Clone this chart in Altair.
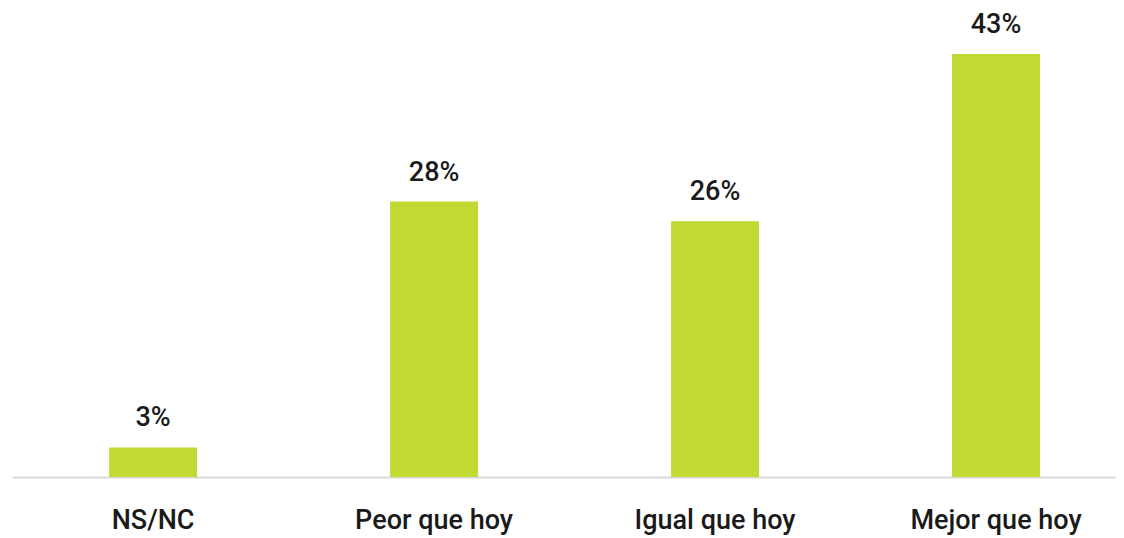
import altair as alt
import pandas as pd

categories = ["NS/NC", "Peor que hoy", "Igual que hoy", "Mejor que hoy"]
values = [3, 28, 26, 43]
labels = ["3%", "28%", "26%", "43%"]

df = pd.DataFrame({"cat": categories, "val": values, "lab": labels})

FONT = "Roboto"
x = alt.X("cat:N", sort=categories, title=None,
          scale=alt.Scale(paddingInner=0.687, paddingOuter=0.308, align=0.561),
          axis=alt.Axis(labelAngle=0, labelFontSize=27, labelFont=FONT, labelColor="#1a1a1a",
                        labelFontWeight=500,
                        labelBaseline="alphabetic", labelPadding=51, ticks=False,
                        domainColor="#d9d9d9", domainWidth=2))
y = alt.Y("val:Q", scale=alt.Scale(domain=[0, 43], nice=False, zero=True), axis=None)

bars = alt.Chart(df).mark_bar(color="#C1D932").encode(x=x, y=y)
text = alt.Chart(df).mark_text(fontSize=27, font=FONT, fontWeight=500, color="#1a1a1a",
                               baseline="alphabetic", dy=-21).encode(
    x=alt.X("cat:N", sort=categories), y="val:Q", text="lab:N")

chart = (bars + text).properties(
    width=1104, height=423,
    autosize=alt.AutoSizeParams(type="none"),
    padding={"left": 4, "top": 46, "right": 0, "bottom": 62},
    background="white",
).configure_view(stroke=None)

chart.save("out.html", embed_options={"renderer": "svg", "actions": False})
